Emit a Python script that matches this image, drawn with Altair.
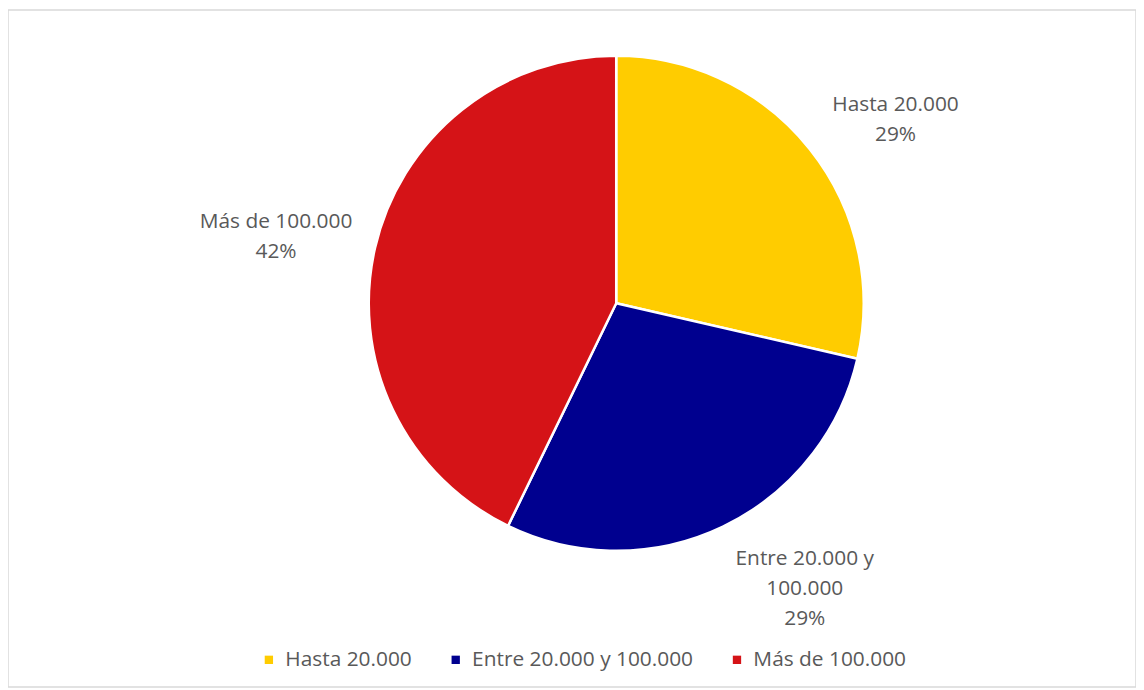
import altair as alt
import pandas as pd

categories = ["Hasta 20.000", "Entre 20.000 y 100.000", "Más de 100.000"]
values = [28.6, 28.6, 42.8]
label_lines = [["Hasta 20.000", "29%"], ["Entre 20.000 y", "100.000", "29%"], ["Más de 100.000", "42%"]]
colors = ["#FFCC00", "#00008F", "#D51317"]

df = pd.DataFrame({
    "cat": categories,
    "value": values,
    "order": [0, 1, 2],
    "label": ["\n".join(l) for l in label_lines],
})

FONT = "Open Sans"
FS = 21
CX, CY, R = 612, 295, 249

base = alt.Chart(df).encode(
    theta=alt.Theta("value:Q", stack=True),
    order=alt.Order("order:Q"),
)

pie = base.mark_arc(radius=R, stroke="white", strokeWidth=2.5).encode(
    x=alt.value(CX), y=alt.value(CY),
    color=alt.Color(
        "cat:N",
        scale=alt.Scale(domain=categories, range=colors),
        sort=categories,
        legend=alt.Legend(
            title=None, orient="none", direction="horizontal",
            legendX=252, legendY=643,
            symbolType="square", symbolSize=70, symbolStrokeWidth=0,
            labelFont=FONT, labelFontSize=FS, labelColor="#595959",
            labelLimit=0, columnPadding=33, symbolOffset=0, labelOffset=6,
        ),
    ),
)

offsets = {
    "Hasta 20.000": (15, 12),
    "Entre 20.000 y 100.000": (43, -49),
    "Más de 100.000": (-11, -5),
}

text_layers = []
for cat in categories:
    dx, dy = offsets[cat]
    t = base.mark_text(
        radius=340, font=FONT, fontSize=FS, color="#595959",
        lineBreak="\n", lineHeight=30, align="center", baseline="middle",
        dx=dx, dy=dy,
    ).encode(
        x=alt.value(CX), y=alt.value(CY),
        text="label:N",
        opacity=alt.condition(alt.datum.cat == cat, alt.value(1), alt.value(0)),
    )
    text_layers.append(t)

chart = alt.layer(pie, *text_layers).properties(
    width=1135, height=681,
    autosize=alt.AutoSizeParams(type="none"),
    padding=0,
).configure_view(stroke="#D9D9D9", strokeWidth=1.5)

chart.save("out.html", embed_options={"renderer": "svg", "actions": False})
